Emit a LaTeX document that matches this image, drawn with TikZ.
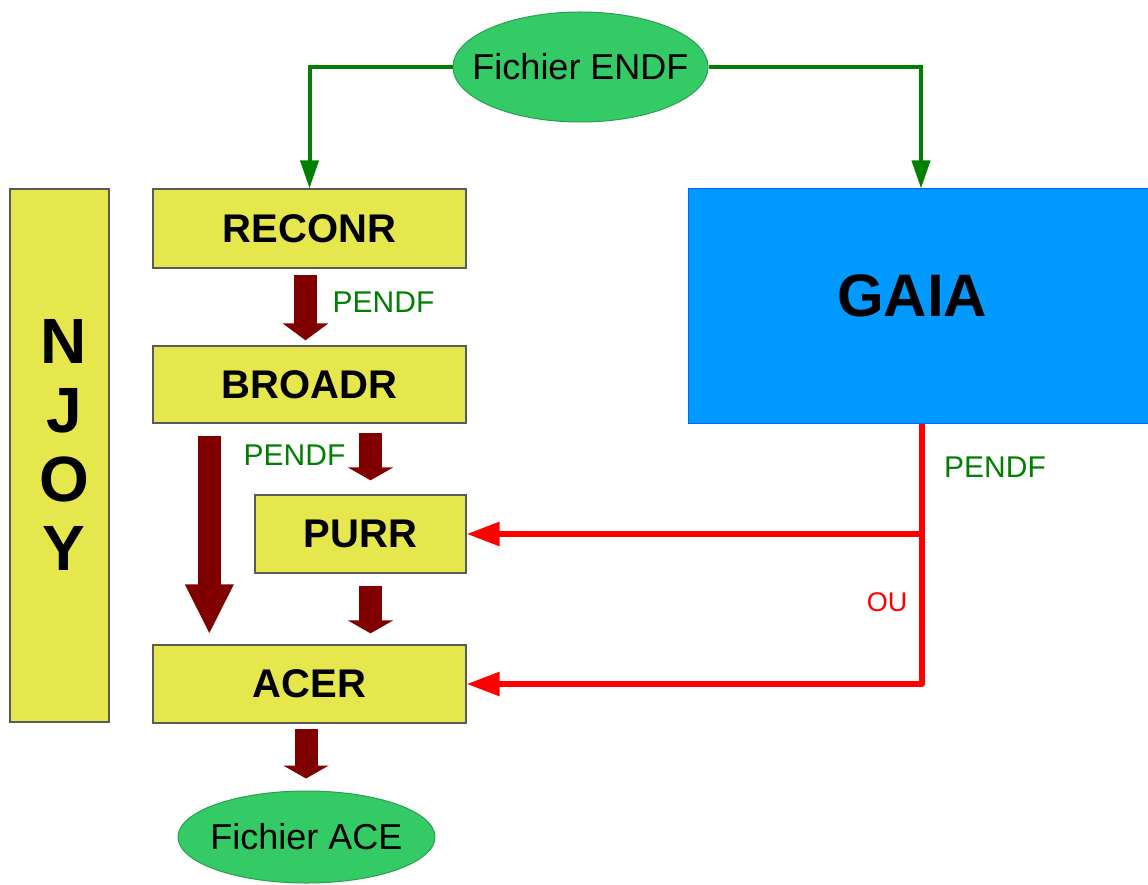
\documentclass[tikz,border=0pt]{standalone}
\usepackage{fontspec}
\setmainfont{Liberation Sans}
\usetikzlibrary{arrows.meta,shapes.geometric,calc}
\definecolor{boxyellow}{RGB}{230,230,77}
\definecolor{boxborder}{RGB}{90,90,90}
\definecolor{ellgreen}{RGB}{52,202,102}
\definecolor{ellborder}{RGB}{40,160,80}
\definecolor{linegreen}{RGB}{0,128,0}
\definecolor{darkred}{RGB}{128,0,0}
\definecolor{gaiablue}{RGB}{0,153,255}
\definecolor{gaiaborder}{RGB}{0,102,255}
\tikzset{
  modbox/.style={draw=boxborder,line width=1.3pt,fill=boxyellow,rectangle,inner sep=0pt,
    font=\fontsize{40}{48}\selectfont\bfseries},
  filell/.style={draw=ellborder,line width=1pt,fill=ellgreen,ellipse,inner sep=0pt,
    font=\fontsize{36}{43}\selectfont},
  greenarrow/.style={draw=linegreen,line width=4pt,-{Triangle[width=18pt,length=28pt]}},
  redarrow/.style={draw=red,line width=6pt,line join=round,-{Triangle[width=23pt,length=33pt]}},
  blockarrow/.style={draw=darkred,line width=23pt},
  pendf/.style={text=linegreen,font=\fontsize{30}{36}\selectfont,inner sep=0pt},
}
\begin{document}
\begin{tikzpicture}[x=1pt,y=-1pt]
\useasboundingbox (0,0) rectangle (1148,885);
% nodes
\node[modbox,minimum width=99pt,minimum height=533pt] (NJOY) at (59.5,455.5) {};
\node[font=\fontsize{64}{69}\selectfont\bfseries,align=center,inner sep=0pt] (njoytext) at (64,444.5) {N\\J\\O\\Y};
\node[modbox,minimum width=313pt,minimum height=79pt] (RECONR) at (309.5,228.5) {RECONR};
\node[modbox,minimum width=313pt,minimum height=77pt] (BROADR) at (309.5,384.5) {BROADR};
\node[modbox,minimum width=211pt,minimum height=78pt] (PURR) at (360.5,534) {PURR};
\node[modbox,minimum width=313pt,minimum height=78pt] (ACER) at (309.5,684) {ACER};
\node[draw=gaiaborder,line width=1pt,fill=gaiablue,rectangle,minimum width=462pt,minimum height=234pt,inner sep=0pt] (GAIA) at (919,306) {};
\node[font=\fontsize{60}{72}\selectfont\bfseries,inner sep=0pt] (gaiatext) at (912,296) {GAIA};
\node[filell,minimum width=255pt,minimum height=110pt] (ENDF) at (580.5,67) {\makebox[0pt]{Fichier ENDF}};
\node[filell,minimum width=257pt,minimum height=92pt] (ACE) at (306.5,837) {\makebox[0pt]{Fichier ACE}};
% green connectors
\draw[greenarrow] (ENDF.west) -| (RECONR.north);
\draw[greenarrow] (ENDF.east) -| ([xshift=2pt]GAIA.north);
% block arrows
\coordinate (a3s) at (PURR.north |- BROADR.south);
\coordinate (a4e) at (PURR.south |- ACER.north);
\draw[blockarrow,-{Triangle[width=45pt,length=17pt]}] ([xshift=-4pt,yshift=-6pt]RECONR.south) -- ([xshift=-4pt,yshift=5pt]BROADR.north);
\draw[blockarrow,-{Triangle[width=45pt,length=50pt]}] ([xshift=57pt,yshift=-12pt]BROADR.south west) -- ([xshift=57pt,yshift=10pt]ACER.north west);
\draw[blockarrow,-{Triangle[width=45pt,length=13pt]}] ([xshift=10pt,yshift=-9pt]a3s) -- ([xshift=10pt,yshift=14pt]PURR.north);
\draw[blockarrow,-{Triangle[width=45pt,length=13pt]}] ([xshift=10pt,yshift=-12pt]PURR.south) -- ([xshift=10pt,yshift=11pt]a4e);
\draw[blockarrow,-{Triangle[width=45pt,length=13pt]}] ([xshift=-3.5pt,yshift=-5pt]ACER.south) -- ([xshift=-0.5pt,yshift=12pt]ACE.north);
% red connectors
\coordinate (rtop) at ([xshift=3pt]GAIA.south);
\draw[redarrow] (rtop) |- (ACER.east);
\draw[redarrow] (rtop |- PURR.east) -- (PURR.east);
% labels
\node[pendf] (p1) at (383.5,302) {PENDF};
\node[pendf] (p2) at (294.5,455) {PENDF};
\node[pendf] (p3) at (995,467) {PENDF};
\node[text=red,font=\fontsize{27}{32}\selectfont,inner sep=0pt] (ou) at (887,602) {OU};
\end{tikzpicture}
\end{document}
